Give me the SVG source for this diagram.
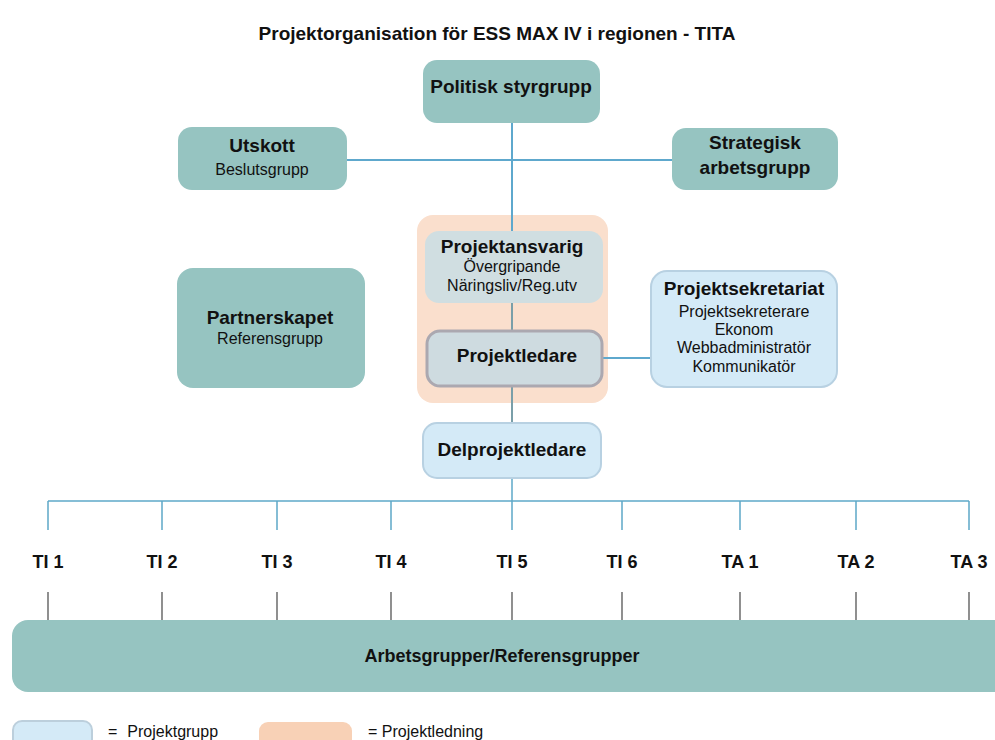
<svg xmlns="http://www.w3.org/2000/svg" width="995" height="740" viewBox="0 0 995 740">
<style>
  text { font-family: "Liberation Sans", Arial, sans-serif; fill: #111; text-anchor: middle; }
  .t { font-weight: bold; font-size: 19px; }
  .s { font-size: 16px; }
  .lab { font-weight: bold; font-size: 18px; }
  .teal { fill: #96c4c1; }
  .lblue { fill: #d4eaf7; stroke: #b8d1e2; stroke-width: 2; }
  .gray { fill: #d0dee1; }
  .conn { stroke: #5ea8cd; stroke-width: 2; fill: none; }
  .conn2 { stroke: #7a9fa9; stroke-width: 2; fill: none; }
  .bus { stroke: #5ea8c8; stroke-width: 1.5; fill: none; }
  .stub { stroke: #555; stroke-width: 1.3; fill: none; }
  .leg { font-size: 16px; text-anchor: start; }
</style>
<rect width="995" height="740" fill="#ffffff"/>
<text class="t" x="497" y="40">Projektorganisation för ESS MAX IV i regionen - TITA</text>

<g id="projektledning-bg">
  <rect x="417" y="215" width="191" height="188" rx="16" fill="#fadfcd"/>
</g>

<g id="connectors">
  <line class="conn" x1="512" y1="123" x2="512" y2="231"/>
  <line class="conn" x1="347" y1="160" x2="672" y2="160"/>
  <line class="conn2" x1="512" y1="303" x2="512" y2="330"/>
  <line class="conn2" x1="512" y1="387" x2="512" y2="422"/>
  <line class="conn" x1="603" y1="358" x2="651" y2="358"/>
  <line class="bus" x1="512" y1="478" x2="512" y2="501"/>
  <line class="bus" x1="48" y1="501" x2="969" y2="501"/>
  <path class="bus" d="M48 501V530M162 501V530M277 501V530M391 501V530M512 501V530M622 501V530M740 501V530M856 501V530M969 501V530"/>
  <path class="stub" d="M48 592V620M162 592V620M277 592V620M391 592V620M512 592V620M622 592V620M740 592V620M856 592V620M969 592V620"/>
</g>

<g id="politisk">
  <rect class="teal" x="423" y="60" width="177" height="63" rx="14"/>
  <text class="t" x="511" y="93">Politisk styrgrupp</text>
</g>
<g id="utskott">
  <rect class="teal" x="178" y="127" width="169" height="63" rx="14"/>
  <text class="t" x="262" y="152">Utskott</text>
  <text class="s" x="262" y="175">Beslutsgrupp</text>
</g>
<g id="strategisk">
  <rect class="teal" x="672" y="128" width="166" height="62" rx="14"/>
  <text class="t" x="755" y="149">Strategisk</text>
  <text class="t" x="755" y="174">arbetsgrupp</text>
</g>
<g id="partnerskapet">
  <rect class="teal" x="177" y="268" width="188" height="120" rx="16"/>
  <text class="t" x="270" y="324">Partnerskapet</text>
  <text class="s" x="270" y="344">Referensgrupp</text>
</g>
<g id="projektansvarig">
  <rect class="gray" x="425" y="231" width="178" height="72" rx="14"/>
  <text class="t" x="512" y="253">Projektansvarig</text>
  <text class="s" x="512" y="272">Övergripande</text>
  <text class="s" x="512" y="291">Näringsliv/Reg.utv</text>
</g>
<g id="projektledare">
  <rect x="427" y="331" width="175" height="55" rx="13" fill="#cedbe0" stroke="#aba8b0" stroke-width="3"/>
  <text class="t" x="517" y="362">Projektledare</text>
</g>
<g id="projektsekretariat">
  <rect class="lblue" x="651" y="271" width="186" height="116" rx="16"/>
  <text class="t" x="744" y="295">Projektsekretariat</text>
  <text class="s" x="744" y="317">Projektsekreterare</text>
  <text class="s" x="744" y="335">Ekonom</text>
  <text class="s" x="744" y="353">Webbadministratör</text>
  <text class="s" x="744" y="372">Kommunikatör</text>
</g>
<g id="delprojektledare">
  <rect class="lblue" x="423" y="423" width="178" height="55" rx="14"/>
  <text class="t" x="512" y="456">Delprojektledare</text>
</g>

<g id="labels">
  <text class="lab" x="48" y="568">TI 1</text>
  <text class="lab" x="162" y="568">TI 2</text>
  <text class="lab" x="277" y="568">TI 3</text>
  <text class="lab" x="391" y="568">TI 4</text>
  <text class="lab" x="512" y="568">TI 5</text>
  <text class="lab" x="622" y="568">TI 6</text>
  <text class="lab" x="740" y="568">TA 1</text>
  <text class="lab" x="856" y="568">TA 2</text>
  <text class="lab" x="969" y="568">TA 3</text>
</g>

<g id="arbetsgrupper">
  <rect class="teal" x="12" y="620" width="1010" height="72" rx="16"/>
  <text class="lab" x="502" y="662">Arbetsgrupper/Referensgrupper</text>
</g>

<g id="legend">
  <rect x="13" y="721" width="79" height="30" rx="9" fill="#d4eaf7" stroke="#bccfdc" stroke-width="2"/>
  <text class="leg" x="108" y="737">=<tspan dx="10">Projektgrupp</tspan></text>
  <rect x="259" y="722" width="93" height="30" rx="9" fill="#f8d1b6"/>
  <text class="leg" x="368" y="737">= Projektledning</text>
</g>
</svg>
